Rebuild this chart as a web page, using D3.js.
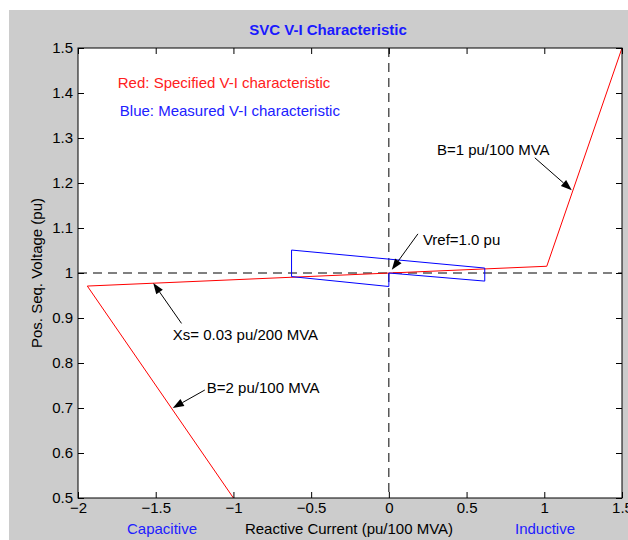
<!DOCTYPE html>
<html><head><meta charset="utf-8">
<script src="https://cdn.jsdelivr.net/npm/d3@7"></script>
<style>body{margin:0;background:#fff}svg{display:block}text{font-family:Arial,"Liberation Sans",sans-serif}</style>
</head><body>
<script>
// ---- data ----
const xTicks = [-2, -1.5, -1, -0.5, 0, 0.5, 1, 1.5];
const yTicks = [0.5, 0.6, 0.7, 0.8, 0.9, 1, 1.1, 1.2, 1.3, 1.4, 1.5];
const specI = [-1.0, -1.94, 1.016, 1.5];
const specV = [0.5, 0.971, 1.015, 1.5];
const measI = [0.0, 0.617, 0.617, -0.626, -0.626, 0.0, 0.0];
const measV = [1.0, 0.982, 1.011, 1.051, 0.992, 0.970, 1.0];
const annoText = ["Vref=1.0 pu", "Xs= 0.03 pu/200 MVA", "B=2 pu/100 MVA", "B=1 pu/100 MVA"];
const annoTextI = [0.219, -1.39, -1.171, 0.309];
const annoTextV = [1.073, 0.862, 0.744, 1.273];
const annoTailI = [0.187, -1.334, -1.184, 0.939];
const annoTailV = [1.087, 0.888, 0.740, 1.256];
const annoTipI = [0.019, -1.516, -1.39, 1.177];
const annoTipV = [1.007, 0.978, 0.700, 1.184];

const W = 628, H = 540, FS = 15;
const svg = d3.select("body").append("svg").attr("width", W).attr("height", H);
svg.append("rect").attr("x", 9).attr("y", 10).attr("width", W - 9).attr("height", H - 10).attr("fill", "#cccccc");

const L = 78, R = 622, T = 48, B = 498;
const x = d3.scaleLinear().domain([-2, 1.5]).range([L, R]);
const y = d3.scaleLinear().domain([0.5, 1.5]).range([B, T]);

svg.append("rect").attr("x", L).attr("y", T).attr("width", R - L).attr("height", B - T).attr("fill", "#fff");

const defs = svg.append("defs");
defs.append("clipPath").attr("id", "clip").append("rect").attr("x", L).attr("y", T).attr("width", R - L).attr("height", B - T);

const plot = svg.append("g").attr("clip-path", "url(#clip)");
// dashed reference lines
plot.append("line").attr("x1", L).attr("x2", R).attr("y1", y(1)).attr("y2", y(1))
  .attr("stroke", "#000").attr("stroke-dasharray", "9,6");
plot.append("line").attr("x1", x(0)).attr("x2", x(0)).attr("y1", T).attr("y2", B)
  .attr("stroke", "#000").attr("stroke-dasharray", "9,6");

const line = d3.line().x(d => x(d[0])).y(d => y(d[1]));
plot.append("path").datum(specI.map((v, i) => [v, specV[i]])).attr("d", line)
  .attr("fill", "none").attr("stroke", "#ff0000").attr("stroke-width", 1);
plot.append("path").datum(measI.map((v, i) => [v, measV[i]])).attr("d", line)
  .attr("fill", "none").attr("stroke", "#0000ff").attr("stroke-width", 1);

// axes
const tl = 6;
const gB = svg.append("g").attr("transform", `translate(0,${B})`)
  .call(d3.axisBottom(x).tickValues(xTicks).tickSizeInner(-tl).tickSizeOuter(0).tickPadding(4).tickFormat(d3.format("")));
const gT = svg.append("g").attr("transform", `translate(0,${T})`)
  .call(d3.axisTop(x).tickValues(xTicks).tickSizeInner(-tl).tickSizeOuter(0).tickFormat(""));
const gL = svg.append("g").attr("transform", `translate(${L},0)`)
  .call(d3.axisLeft(y).tickValues(yTicks).tickSizeInner(-tl).tickSizeOuter(0).tickPadding(5).tickFormat(d3.format("")));
const gR = svg.append("g").attr("transform", `translate(${R},0)`)
  .call(d3.axisRight(y).tickValues(yTicks).tickSizeInner(-tl).tickSizeOuter(0).tickFormat(""));
[gB, gT, gL, gR].forEach(g => {
  g.select(".domain").remove();
  g.selectAll("line").attr("stroke", "#000");
  g.selectAll("text").attr("font-size", FS).attr("fill", "#000")
    .attr("font-family", "Arial, 'Liberation Sans', sans-serif");
});
gB.selectAll("text").attr("dy", "0.75em");
gL.selectAll("text").attr("dy", "0.3em");
svg.append("rect").attr("x", L).attr("y", T).attr("width", R - L).attr("height", B - T)
  .attr("fill", "none").attr("stroke", "#000");

// title and labels
svg.append("text").attr("x", 328).attr("y", 35).attr("text-anchor", "middle")
  .attr("font-size", 15).attr("font-weight", "bold").attr("fill", "#1a1aff").text("SVC V-I Characteristic");
svg.append("text").attr("x", 349).attr("y", 534).attr("text-anchor", "middle")
  .attr("font-size", FS).attr("fill", "#000").text("Reactive Current (pu/100 MVA)");
svg.append("text").attr("x", 162).attr("y", 534).attr("text-anchor", "middle")
  .attr("font-size", FS).attr("fill", "#2020ff").text("Capacitive");
svg.append("text").attr("x", 545).attr("y", 534).attr("text-anchor", "middle")
  .attr("font-size", FS).attr("fill", "#2020ff").text("Inductive");
svg.append("text").attr("transform", `translate(42,${(T + B) / 2}) rotate(-90)`).attr("text-anchor", "middle")
  .attr("font-size", FS).attr("fill", "#000").text("Pos. Seq. Voltage (pu)");

// legend texts
svg.append("text").attr("x", x(-1.744)).attr("y", y(1.422)).attr("dy", "0.35em")
  .attr("font-size", FS).attr("fill", "#ff2020").text("Red: Specified V-I characteristic");
svg.append("text").attr("x", x(-1.731)).attr("y", y(1.36)).attr("dy", "0.35em")
  .attr("font-size", FS).attr("fill", "#2020ff").text("Blue: Measured V-I characteristic");

// annotations
annoText.forEach((t, i) => {
  svg.append("text").attr("x", x(annoTextI[i])).attr("y", y(annoTextV[i])).attr("dy", "0.35em")
    .attr("font-size", FS).attr("fill", "#000").text(t);
  const x1 = x(annoTailI[i]), y1 = y(annoTailV[i]), x2 = x(annoTipI[i]), y2 = y(annoTipV[i]);
  const ang = Math.atan2(y2 - y1, x2 - x1);
  const hl = 11, hw = 4;
  const bx = x2 - hl * Math.cos(ang), by = y2 - hl * Math.sin(ang);
  svg.append("line").attr("x1", x1).attr("y1", y1).attr("x2", bx).attr("y2", by).attr("stroke", "#000");
  const px = -Math.sin(ang) * hw, py = Math.cos(ang) * hw;
  svg.append("path").attr("d", `M${x2},${y2}L${bx + px},${by + py}L${bx - px},${by - py}Z`).attr("fill", "#000");
});
</script>
</body></html>
